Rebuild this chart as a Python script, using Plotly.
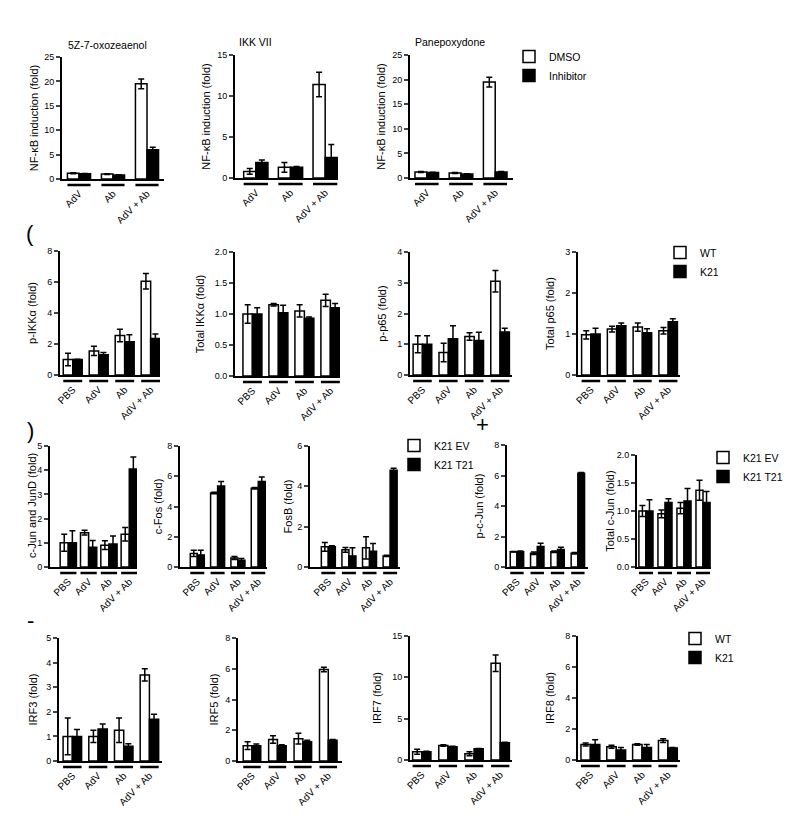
import plotly.graph_objects as go

# ---------------- data ----------------
groups3 = ["AdV", "Ab", "AdV + Ab"]
groups4 = ["PBS", "AdV", "Ab", "AdV + Ab"]

# row A - NF-kB reporter, DMSO vs inhibitor
oxo_dmso = [1.2, 1.0, 19.5]
oxo_dmso_err = [0.1, 0.1, 1.0]
oxo_inh = [1.1, 0.8, 6.0]
oxo_inh_err = [0.05, 0.05, 0.5]

ikk7_dmso = [0.8, 1.3, 11.4]
ikk7_dmso_err = [0.35, 0.6, 1.5]
ikk7_inh = [1.9, 1.3, 2.5]
ikk7_inh_err = [0.3, 0.1, 1.6]

pan_dmso = [1.2, 1.0, 19.5]
pan_dmso_err = [0.1, 0.1, 1.0]
pan_inh = [1.1, 0.8, 1.2]
pan_inh_err = [0.05, 0.05, 0.1]

# row B - WT vs K21
pikk_wt = [1.0, 1.55, 2.55, 6.05]
pikk_wt_err = [0.4, 0.3, 0.4, 0.5]
pikk_k21 = [1.0, 1.3, 2.15, 2.35]
pikk_k21_err = [0.02, 0.15, 0.45, 0.3]

tikk_wt = [1.0, 1.15, 1.05, 1.22]
tikk_wt_err = [0.15, 0.02, 0.1, 0.1]
tikk_k21 = [1.0, 1.02, 0.93, 1.1]
tikk_k21_err = [0.1, 0.12, 0.02, 0.07]

pp65_wt = [1.0, 0.73, 1.25, 3.05]
pp65_wt_err = [0.28, 0.3, 0.12, 0.35]
pp65_k21 = [1.0, 1.18, 1.12, 1.4]
pp65_k21_err = [0.28, 0.42, 0.27, 0.12]

tp65_wt = [0.98, 1.12, 1.17, 1.08]
tp65_wt_err = [0.1, 0.07, 0.1, 0.08]
tp65_k21 = [1.0, 1.2, 1.03, 1.3]
tp65_k21_err = [0.14, 0.07, 0.1, 0.07]

# row C - K21 EV vs K21 T21
jun_ev = [1.0, 1.42, 0.9, 1.35]
jun_ev_err = [0.35, 0.1, 0.18, 0.28]
jun_t21 = [1.0, 0.82, 0.95, 4.05]
jun_t21_err = [0.5, 0.28, 0.33, 0.5]

cfos_ev = [0.9, 4.9, 0.6, 5.2]
cfos_ev_err = [0.2, 0.05, 0.1, 0.05]
cfos_t21 = [0.8, 5.35, 0.45, 5.65]
cfos_t21_err = [0.3, 0.3, 0.12, 0.3]

fosb_ev = [1.0, 0.85, 0.95, 0.55]
fosb_ev_err = [0.22, 0.12, 0.55, 0.03]
fosb_t21 = [1.0, 0.55, 0.78, 4.8]
fosb_t21_err = [0.05, 0.4, 0.38, 0.1]

pjun_ev = [1.0, 0.9, 1.0, 0.9]
pjun_ev_err = [0.02, 0.08, 0.05, 0.05]
pjun_t21 = [1.0, 1.35, 1.15, 6.15]
pjun_t21_err = [0.05, 0.2, 0.15, 0.05]

tjun_ev = [1.0, 0.95, 1.05, 1.37]
tjun_ev_err = [0.1, 0.07, 0.1, 0.18]
tjun_t21 = [1.0, 1.15, 1.18, 1.15]
tjun_t21_err = [0.2, 0.07, 0.22, 0.2]

# row D - IRFs, WT vs K21
irf3_wt = [1.0, 1.0, 1.25, 3.5]
irf3_wt_err = [0.75, 0.25, 0.5, 0.25]
irf3_k21 = [1.0, 1.3, 0.6, 1.7]
irf3_k21_err = [0.28, 0.2, 0.1, 0.2]

irf5_wt = [1.0, 1.4, 1.45, 5.95]
irf5_wt_err = [0.25, 0.25, 0.35, 0.15]
irf5_k21 = [1.0, 1.0, 1.25, 1.35]
irf5_k21_err = [0.1, 0.05, 0.1, 0.05]

irf7_wt = [1.0, 1.75, 0.75, 11.7]
irf7_wt_err = [0.3, 0.1, 0.25, 1.0]
irf7_k21 = [1.0, 1.6, 1.35, 2.1]
irf7_k21_err = [0.05, 0.05, 0.05, 0.05]

irf8_wt = [1.0, 0.85, 1.0, 1.25]
irf8_wt_err = [0.1, 0.1, 0.05, 0.12]
irf8_k21 = [1.0, 0.65, 0.8, 0.78]
irf8_k21_err = [0.3, 0.15, 0.2, 0.02]

# ---------------- layout of panels (pixel boxes) ----------------
W, H = 800, 830
OFF = 8  # page body margin in the browser
FONT = "Liberation Sans, Arial, sans-serif"


def fx(px):
    return (px - OFF) / W


def fy(py):
    return 1 - (py - OFF) / H


nfkb = "NF-κB induction (fold)"
panels = [
    # box = (x0, x1, ytop, ybot) in pixels, xr = x range, w = bar width, so = y title standoff
    dict(t="5Z-7-oxozeaenol", tx=107, ty=45, yt=nfkb, cats=groups3, a=oxo_dmso, ae=oxo_dmso_err, b=oxo_inh, be=oxo_inh_err,
         names=["DMSO", "Inhibitor"], ymax=25, dt=5, fmt="", box=(62, 164, 57, 179), xr=[-0.5, 2.5], w=0.34, so=3, leg=None),
    dict(t="IKK VII", tx=255, ty=42, yt=nfkb, cats=groups3, a=ikk7_dmso, ae=ikk7_dmso_err, b=ikk7_inh, be=ikk7_inh_err,
         names=["DMSO", "Inhibitor"], ymax=15, dt=5, fmt="", box=(235, 338, 55, 178), xr=[-0.6, 2.37], w=0.35, so=4, leg=None),
    dict(t="Panepoxydone", tx=450, ty=42, yt=nfkb, cats=groups3, a=pan_dmso, ae=pan_dmso_err, b=pan_inh, be=pan_inh_err,
         names=["DMSO", "Inhibitor"], ymax=25, dt=5, fmt="", box=(410, 513, 55, 178), xr=[-0.49, 2.52], w=0.345, so=4, leg="legend"),

    dict(t="", yt="p-IKKα (fold)", cats=groups4, a=pikk_wt, ae=pikk_wt_err, b=pikk_k21, be=pikk_k21_err,
         names=["WT", "K21"], ymax=8, dt=2, fmt="", box=(60, 160, 251, 375), xr=[-0.49, 3.36], w=0.365, so=8, leg=None),
    dict(t="", yt="Total IKKα (fold)", cats=groups4, a=tikk_wt, ae=tikk_wt_err, b=tikk_k21, be=tikk_k21_err,
         names=["WT", "K21"], ymax=2, dt=0.5, fmt=".1f", box=(235, 340, 252, 376), xr=[-0.67, 3.37], w=0.365, so=8, leg=None),
    dict(t="", yt="p-p65 (fold)", cats=groups4, a=pp65_wt, ae=pp65_wt_err, b=pp65_k21, be=pp65_k21_err,
         names=["WT", "K21"], ymax=4, dt=1, fmt="", box=(410, 512, 252, 375), xr=[-0.48, 3.46], w=0.36, so=8, leg=None),
    dict(t="", yt="Total p65 (fold)", cats=groups4, a=tp65_wt, ae=tp65_wt_err, b=tp65_k21, be=tp65_k21_err,
         names=["WT", "K21"], ymax=3, dt=1, fmt="", box=(578, 680, 252, 375), xr=[-0.5, 3.46], w=0.36, so=8, leg="legend2"),

    # the first c-Jun title is written as a rotated note below (the axis title gets pushed to the page edge)
    dict(t="", yt="", cats=groups4, a=jun_ev, ae=jun_ev_err, b=jun_t21, be=jun_t21_err,
         names=["K21 EV", "K21 T21"], ymax=5, dt=1, fmt="", box=(50, 137, 446, 567), xr=[-0.9, 3.38], w=0.4, so=3, leg="legend3"),
    dict(t="", yt="c-Fos (fold)", cats=groups4, a=cfos_ev, ae=cfos_ev_err, b=cfos_t21, be=cfos_t21_err,
         names=["K21 EV", "K21 T21"], ymax=8, dt=2, fmt="", box=(180, 267, 446, 567), xr=[-0.85, 3.43], w=0.345, so=2, leg=None),
    dict(t="", yt="FosB (fold)", cats=groups4, a=fosb_ev, ae=fosb_ev_err, b=fosb_t21, be=fosb_t21_err,
         names=["K21 EV", "K21 T21"], ymax=6, dt=2, fmt="", box=(310, 400, 446, 567), xr=[-0.89, 3.48], w=0.34, so=2, leg=None),
    dict(t="", yt="p-c-Jun (fold)", cats=groups4, a=pjun_ev, ae=pjun_ev_err, b=pjun_t21, be=pjun_t21_err,
         names=["K21 EV", "K21 T21"], ymax=8, dt=2, fmt="", box=(507, 588, 445, 567), xr=[-0.49, 3.5], w=0.33, so=8, leg=None),
    dict(t="", yt="Total c-Jun (fold)", cats=groups4, a=tjun_ev, ae=tjun_ev_err, b=tjun_t21, be=tjun_t21_err,
         names=["K21 EV", "K21 T21"], ymax=2, dt=0.5, fmt=".1f", box=(637, 711, 455, 567), xr=[-0.47, 3.42], w=0.37, so=0, leg="legend4"),

    dict(t="", yt="IRF3 (fold)", cats=groups4, a=irf3_wt, ae=irf3_wt_err, b=irf3_k21, be=irf3_k21_err,
         names=["WT", "K21"], ymax=5, dt=1, fmt="", box=(59, 162, 638, 761), xr=[-0.52, 3.49], w=0.36, so=6, leg=None),
    dict(t="", yt="IRF5 (fold)", cats=groups4, a=irf5_wt, ae=irf5_wt_err, b=irf5_k21, be=irf5_k21_err,
         names=["WT", "K21"], ymax=8, dt=2, fmt="", box=(238, 342, 638, 761), xr=[-0.55, 3.54], w=0.345, so=4, leg=None),
    dict(t="", yt="IRF7 (fold)", cats=groups4, a=irf7_wt, ae=irf7_wt_err, b=irf7_k21, be=irf7_k21_err,
         names=["WT", "K21"], ymax=15, dt=5, fmt="", box=(410, 512, 636, 760), xr=[-0.45, 3.45], w=0.35, so=8, leg=None),
    dict(t="", yt="IRF8 (fold)", cats=groups4, a=irf8_wt, ae=irf8_wt_err, b=irf8_k21, be=irf8_k21_err,
         names=["WT", "K21"], ymax=8, dt=2, fmt="", box=(578, 680, 636, 760), xr=[-0.48, 3.47], w=0.365, so=8, leg="legend5"),
]

fig = go.Figure()
layout = {}
shapes = []
annotations = []

for i, p in enumerate(panels):
    n = "" if i == 0 else str(i + 1)
    xa, ya = "x" + n, "y" + n
    x0, x1, yt, yb = p["box"]
    xs = list(range(len(p["cats"])))
    w = p["w"]
    show = p["leg"] is not None
    for name, vals, errs, fill, off in [(p["names"][0], p["a"], p["ae"], "white", -w),
                                        (p["names"][1], p["b"], p["be"], "black", 0)]:
        fig.add_trace(go.Bar(
            x=xs, y=vals, width=w, offset=off, name=name,
            marker=dict(color=fill, line=dict(color="black", width=1.5)),
            error_y=dict(type="data", array=errs, color="black", thickness=1.5, width=3),
            xaxis=xa, yaxis=ya, showlegend=show,
            legend=p["leg"] if show else "legend",
        ))

    layout["xaxis" + n] = dict(
        domain=[fx(x0), fx(x1)], anchor=ya, range=p["xr"], automargin=False,
        tickvals=xs, ticktext=p["cats"], tickangle=-45, ticks="",
        ticklabelstandoff=3, tickfont=dict(size=10),
        showline=True, linecolor="black", linewidth=2, showgrid=False, zeroline=False,
    )
    layout["yaxis" + n] = dict(
        domain=[fy(yb), fy(yt)], anchor=xa, range=[0, p["ymax"]], dtick=p["dt"],
        tickformat=p["fmt"], ticks="outside", ticklen=4, tickwidth=1.5, automargin=True,
        tickfont=dict(size=9), showline=True, linecolor="black", linewidth=2,
        showgrid=False, zeroline=False,
        title=dict(text=p["yt"], font=dict(size=11), standoff=p["so"]),
    )

    # black underline below each group
    h = yb - yt
    for x in xs:
        shapes.append(dict(type="line", xref=xa, yref=ya + " domain",
                           x0=x - w, x1=x + w, y0=-6 / h, y1=-6 / h,
                           line=dict(color="black", width=2.5)))

    if p["t"]:
        annotations.append(dict(text=p["t"], xref="paper", yref="paper",
                                x=fx(p["tx"]), y=fy(p["ty"]),
                                xanchor="center", yanchor="middle",
                                showarrow=False, font=dict(size=10.5)))

# y title of the c-Jun and JunD panel
annotations.append(dict(text="c-Jun and JunD (fold)", xref="paper", yref="paper",
                        x=fx(32), y=fy(506), textangle=-90,
                        xanchor="center", yanchor="middle",
                        showarrow=False, font=dict(size=11)))

# panel marks
for txt, px, py in [("(", 30, 233), (")", 30, 430), ("+", 482, 425), ("-", 30, 620)]:
    annotations.append(dict(text=txt, xref="paper", yref="paper", x=fx(px), y=fy(py),
                            xanchor="center", yanchor="middle",
                            showarrow=False, font=dict(size=22, color="black")))


def leg(px, py):
    return dict(x=fx(px), y=fy(py), xanchor="left", yanchor="top",
                font=dict(size=10.5), itemwidth=30, bgcolor="rgba(0,0,0,0)",
                tracegroupgap=0)


layout["legend"] = leg(509, 42)
layout["legend2"] = leg(660, 238)
layout["legend3"] = leg(394, 431)
layout["legend4"] = leg(703, 443)
layout["legend5"] = leg(675, 624)

fig.update_layout(
    **layout,
    shapes=shapes,
    annotations=annotations,
    width=W, height=H,
    margin=dict(l=0, r=0, t=0, b=0, autoexpand=False),
    plot_bgcolor="white", paper_bgcolor="white",
    font=dict(family=FONT, color="black"),
    barmode="overlay",
    template="none",
)

fig.write_html("out.html")
